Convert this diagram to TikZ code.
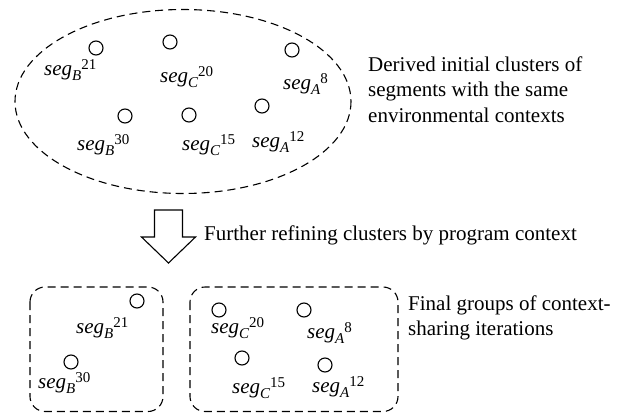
\documentclass[tikz,border=0pt]{standalone}
\usepackage{fontspec}
\setmainfont{Liberation Serif}
\newcommand\sgl[2]{{\fontsize{21}{21}\selectfont\itshape seg}\raisebox{-5pt}{\fontsize{15}{15}\selectfont\itshape #1}\raisebox{6pt}{\fontsize{15}{15}\selectfont #2}}
\tikzset{
 dot/.style={circle, draw, line width=1.1pt, minimum size=14pt, inner sep=0pt},
 seglbl/.style={anchor=base west, inner sep=0pt},
 grp/.style={draw, dash pattern=on 8pt off 5pt, line width=1.1pt},
 desc/.style={anchor=north west, inner sep=0pt, align=left, font=\fontsize{21}{25.5}\selectfont},
 bigarrow/.style={draw, line width=1.1pt, fill=white},
}
\begin{document}
\begin{tikzpicture}[x=1pt,y=-1pt]
\useasboundingbox (0,0) rectangle (630,413);
% top cluster
\draw[grp] (183,101.5) ellipse [x radius=168, y radius=92];
\node[dot] (tb21) at (96,48) {};
\node[dot] (tc20) at (170,42) {};
\node[dot] (ta8) at (292,50) {};
\node[dot] (tb30) at (125,116) {};
\node[dot] (tc15) at (189,115) {};
\node[dot] (ta12) at (262,106) {};
\node[seglbl] (ltb21) at (44,75) {\sgl{B}{21}};
\node[seglbl] (ltc20) at (160,82) {\sgl{C}{20}};
\node[seglbl] (lta8) at (283,89) {\sgl{A}{8}};
\node[seglbl] (ltb30) at (77,150) {\sgl{B}{30}};
\node[seglbl] (ltc15) at (182,150) {\sgl{C}{15}};
\node[seglbl] (lta12) at (252,147) {\sgl{A}{12}};
\node[desc] (d1) at (368,56.5) {Derived initial clusters of\\segments with the same\\environmental contexts};
% arrow
\draw[bigarrow] (154.5,210) -- (182.5,210) -- (182.5,237) -- (195.5,237) -- (168.5,263) -- (141.5,237) -- (154.5,237) -- cycle;
\node[anchor=base west, inner sep=0pt, font=\fontsize{21}{25.5}\selectfont] (d2) at (204,240) {Further refining clusters by program context};
% bottom groups
\draw[grp, rounded corners=15pt] (30,287) rectangle (163,411.5);
\draw[grp, rounded corners=15pt] (190,287) rectangle (398,411.5);
\node[dot] (bb21) at (137,301) {};
\node[dot] (bb30) at (71,362) {};
\node[dot] (bc20) at (219,310) {};
\node[dot] (ba8) at (304,310) {};
\node[dot] (bc15) at (242,358) {};
\node[dot] (ba12) at (325,365) {};
\node[seglbl] (lbb21) at (76,333) {\sgl{B}{21}};
\node[seglbl] (lbb30) at (38,388) {\sgl{B}{30}};
\node[seglbl] (lbc20) at (211,333) {\sgl{C}{20}};
\node[seglbl] (lba8) at (307,338) {\sgl{A}{8}};
\node[seglbl] (lbc15) at (232,393) {\sgl{C}{15}};
\node[seglbl] (lba12) at (312,392) {\sgl{A}{12}};
\node[desc] (d3) at (408,295.5) {Final groups of context-\\sharing iterations};
\end{tikzpicture}
\end{document}
